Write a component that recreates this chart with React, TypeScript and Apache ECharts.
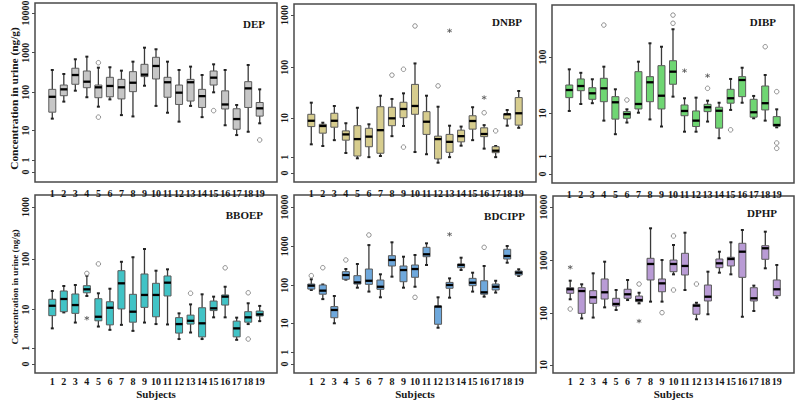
import React, { useEffect, useRef } from 'react';
import * as echarts from 'echarts';

// ---------- data ----------
const SUBJECTS = ['1', '2', '3', '4', '5', '6', '7', '8', '9', '10', '11', '12', '13', '14', '15', '16', '17', '18', '19'];
const PANEL_NAMES = ['DEP', 'DNBP', 'DIBP', 'BBOEP', 'BDCIPP', 'DPHP'];

// [min, Q1, median, Q3, max] per subject (ng/g)
const DEP_BOX = [
  [21, 31, 77, 119, 367], [58, 82, 119, 153, 291], [110, 160, 274, 406, 683], [75, 131, 186, 346, 795],
  [43, 73, 134, 153, 420], [66, 77, 145, 240, 430], [26, 68, 134, 213, 353], [24, 104, 175, 333, 595],
  [147, 250, 280, 510, 1338], [45, 218, 463, 766, 1220], [30, 75, 180, 240, 595], [17.5, 49, 98, 153, 367],
  [45, 60, 180, 213, 446], [23, 41, 80, 119, 274], [100, 153, 235, 346, 510], [14, 37.5, 49, 109, 367],
  [7.5, 10.9, 20.5, 38, 47.5], [9.3, 41, 126, 186, 490], [15.8, 24.5, 39, 55, 119],
];
const DEP_CIRCLES = [[5, 560], [5, 23], [15, 34], [19, 5.4]];
const DEP_STARS: number[][] = [];

const DNBP_BOX = [
  [2.5, 6.6, 8.8, 12.0, 20.6], [2.25, 4.7, 6.8, 7.4, 8.0], [3.2, 6.4, 8.8, 12.6, 17.7], [1.4, 3.2, 4.4, 5.3, 7.8],
  [0.9, 1.1, 3.4, 6.9, 16.3], [1.0, 2.15, 3.9, 6.05, 7.4], [1.1, 1.37, 5.5, 17.1, 28.3], [4.0, 6.9, 9.9, 16.7, 24.4],
  [6.8, 10.2, 15.4, 21, 31.5], [1.5, 12, 17.7, 47, 119], [1.27, 4.4, 8.4, 13.6, 28.3], [0.57, 0.85, 3.4, 4.0, 17.1],
  [1.0, 1.47, 2.9, 4.4, 6.9], [2.3, 2.9, 4.0, 5.5, 6.6], [3.2, 5.8, 8.7, 11.2, 16.7], [1.9, 3.9, 4.5, 6.2, 7.1],
  [1.0, 1.43, 1.65, 2.16, 2.25], [6.9, 9.6, 12, 12.2, 14.7], [6.2, 7.1, 12.6, 26, 35],
];
const DNBP_CIRCLES = [[8, 71], [9, 92], [9, 2.1], [10, 615], [12, 44], [16, 12.9], [17, 5.3]];
const DNBP_STARS = [[13, 500], [16, 26]];

const DIBP_BOX = [
  [11, 19.3, 26.4, 32.4, 61], [14.8, 25.7, 31.1, 41.4, 53], [15.3, 18, 23.1, 29, 40.9], [7.2, 16.3, 28.3, 42.5, 67.8],
  [3.8, 7.7, 15.9, 20.1, 27.2], [6.6, 8.0, 9.6, 10.7, 11.8], [10.2, 12, 14.8, 55.5, 82.8], [7.6, 16.3, 36.2, 45.4, 172],
  [5.5, 12, 20.9, 70.6, 150], [20.1, 33.4, 55.5, 86, 300], [4.3, 8.95, 11, 14.2, 18.8], [4.3, 5.5, 7.2, 11, 19.3],
  [6.9, 10.7, 12.9, 14.6, 17], [3.1, 5.1, 11.1, 12.9, 15.6], [11.5, 15.3, 18.8, 27.2, 41.4], [15.6, 20.1, 39.7, 45.4, 65],
  [8, 8.4, 10.4, 18, 20.7], [7.2, 11.5, 15.3, 31.1, 48.6], [5.3, 5.6, 5.9, 8.6, 11.8],
];
const DIBP_CIRCLES = [[4, 354], [6, 17.5], [10, 525], [10, 380], [13, 28.3], [15, 4.7], [18, 150], [19, 24.7], [19, 2.4], [19, 1.75]];
const DIBP_STARS = [[11, 57.7], [13, 47.2]];

const BBOEP_BOX = [
  [3.8, 7.4, 12, 16.3, 23.9], [8.7, 9.0, 16.5, 23.9, 30], [5.2, 8.3, 12.4, 20.8, 31.4], [19, 22, 25.8, 30.4, 47.8],
  [4.2, 5.7, 7.0, 16.7, 21.5], [3.5, 4.6, 10.9, 14.5, 26.5], [4.6, 10.3, 33.9, 59.8, 89], [3.3, 5.3, 9.0, 20.5, 109],
  [5.2, 11.1, 19.9, 51.6, 157], [4.8, 7.0, 19.9, 33.9, 59.8], [4.7, 19, 34.9, 47.2, 63.6], [2.0, 2.9, 4.8, 6.7, 8.3],
  [3.0, 4.8, 5.7, 7.6, 12.8], [2.0, 2.3, 5.0, 10.9, 20.5], [6.8, 9.5, 10.6, 15, 18.4], [6.8, 12.4, 18.4, 19.9, 29],
  [1.9, 2.3, 3.8, 5.6, 6.7], [4.8, 5.3, 6.8, 9.0, 13.5], [5.6, 7.3, 7.9, 9.3, 11.9],
];
const BBOEP_CIRCLES = [[4, 53], [5, 81], [13, 21.5], [16, 68], [18, 22], [18, 2.0]];
const BBOEP_STARS = [[4, 6.5]];

const BDCIPP_BOX = [
  [76, 80, 98, 108, 143], [44, 59, 73, 102, 105], [9.9, 14.1, 22.8, 28, 53], [140, 143, 184, 224, 262],
  [87, 108, 119, 177, 352], [69, 106, 131, 262, 1070], [49, 79, 92, 137, 192], [167, 313, 446, 574, 1260],
  [87, 124, 247, 313, 541], [92, 161, 262, 332, 597], [332, 541, 623, 939, 1187], [7.4, 9.3, 28, 29, 49],
  [48, 84, 102, 119, 151], [247, 283, 332, 352, 510], [69, 98, 117, 151, 211], [51, 59, 66, 131, 313],
  [65, 76, 92, 108, 131], [380, 472, 564, 835, 1014], [174, 184, 211, 233, 258],
];
const BDCIPP_CIRCLES = [[1, 177], [2, 283], [4, 446], [6, 1935], [10, 49], [16, 939]];
const BDCIPP_STARS = [[13, 2010]];

const DPHP_BOX = [
  [186, 241, 287, 307, 416], [81, 101, 266, 307, 356], [84, 156, 203, 270, 572], [131, 188, 252, 448, 945],
  [117, 139, 152, 194, 278], [180, 194, 231, 287, 429], [156, 168, 180, 214, 247], [168, 429, 856, 1094, 3990],
  [168, 258, 371, 448, 1015], [547, 614, 856, 1015, 1940], [278, 532, 786, 1357, 3300], [78, 97, 141, 150, 160],
  [97, 173, 208, 345, 614], [588, 729, 882, 1061, 1455], [547, 786, 1061, 1143, 2182], [87, 481, 1455, 2090, 3707],
  [112, 173, 194, 307, 336], [710, 1048, 1686, 1883, 3450], [199, 217, 287, 429, 820],
];
const DPHP_CIRCLES = [[1, 122], [7, 360], [9, 104], [10, 2865], [10, 278], [12, 360]];
const DPHP_STARS = [[1, 742], [7, 72]];

// y tick labels per panel (axis is a log scale of value + 1)
const Y_TICKS = [
  [0, 1, 10, 100, 1000, 10000],
  [0, 1, 10, 100, 1000],
  [0, 1, 10, 100],
  [0, 1, 10, 100, 1000],
  [0, 1, 10, 100, 1000, 10000],
  [10, 100, 1000, 10000],
];

const BOXES = [DEP_BOX, DNBP_BOX, DIBP_BOX, BBOEP_BOX, BDCIPP_BOX, DPHP_BOX];
const CIRCLES = [DEP_CIRCLES, DNBP_CIRCLES, DIBP_CIRCLES, BBOEP_CIRCLES, BDCIPP_CIRCLES, DPHP_CIRCLES];
const STARS = [DEP_STARS, DNBP_STARS, DIBP_STARS, BBOEP_STARS, BDCIPP_STARS, DPHP_STARS];

// ---------- layout / style ----------
const COLORS = ['#c6c6c6', '#d7cd8e', '#6fd673', '#41c3c6', '#6ea8dc', '#b99bd5'];
const LAYOUT = [
  { left: 35, top: 3, width: 242, height: 179, yMin: 0.562, yMax: 17783, lm: 6, tr: 535, tt: 18, yName: 11.4, yShift: 12, xName: false },
  { left: 294, top: 4, width: 242, height: 178, yMin: 0.675, yMax: 1610, lm: 6, tr: 278, tt: 16, yName: 0, yShift: 0, xName: false },
  { left: 552, top: 5, width: 242, height: 178, yMin: 0.701, yMax: 783, lm: 6, tr: 24, tt: 16, yName: 0, yShift: 0, xName: false },
  { left: 35, top: 195, width: 242, height: 178, yMin: 0.673, yMax: 1703, lm: 3, tr: 537, tt: 209, yName: 9.2, yShift: 6, xName: true },
  { left: 294, top: 195, width: 242, height: 178, yMin: 0.59, yMax: 20230, lm: 3, tr: 275, tt: 210, yName: 0, yShift: 0, xName: true },
  { left: 553, top: 196, width: 241, height: 177, yMin: 7.79, yMax: 16070, lm: 3, tr: 23, tt: 207, yName: 0, yShift: 0, xName: true },
];
const FONT = "'Liberation Serif', 'Times New Roman', serif";
const INK = '#161616';
const STAR_PATH = 'path://M5,0L5,10M0.7,2.5L9.3,7.5M0.7,7.5L9.3,2.5';

export default function App() {
  const ref = useRef<HTMLDivElement>(null);
  useEffect(() => {
    document.body.style.margin = '0';
    const chart = echarts.init(ref.current!, undefined, { renderer: 'svg' });
    const cats = [''].concat(SUBJECTS).concat([' ']);
    const grid: any[] = [], xAxis: any[] = [], yAxis: any[] = [], series: any[] = [], title: any[] = [];
    LAYOUT.forEach((L, i) => {
      grid.push({
        left: L.left, top: L.top, width: L.width, height: L.height,
        show: true, borderColor: '#4a4a4a', borderWidth: 1.5, backgroundColor: '#fff',
        containLabel: false, outerBoundsMode: 'none',
      });
      xAxis.push({
        type: 'category', gridIndex: i, data: cats, boundaryGap: true,
        axisLine: { show: false }, axisTick: { show: false }, splitLine: { show: false },
        axisLabel: { interval: 0, margin: L.lm, fontFamily: FONT, fontWeight: 'bold', fontSize: 10, color: INK },
        name: L.xName ? 'Subjects' : '', nameLocation: 'middle', nameGap: 15,
        nameTextStyle: { fontFamily: FONT, fontWeight: 'bold', fontSize: 11, color: INK, verticalAlign: 'top' },
      });
      const tickVals = Y_TICKS[i].map((t) => t + 1);
      yAxis.push({
        type: 'log', logBase: 10, gridIndex: i, min: L.yMin, max: L.yMax,
        axisLine: { show: false }, splitLine: { show: false },
        axisTick: { show: true, inside: false, length: 3, customValues: tickVals, lineStyle: { color: '#4a4a4a', width: 1 } },
        axisLabel: {
          customValues: tickVals, rotate: 90, margin: 5, fontFamily: FONT, fontWeight: 'bold', fontSize: 10, color: INK,
          formatter: (v: number) => String(Math.round(v - 1)),
        },
        name: L.yName ? 'Concentration in urine (ng/g)' : '', nameLocation: 'middle', nameGap: 15,
        nameTextStyle: { fontFamily: FONT, fontWeight: 'bold', fontSize: L.yName || 10, color: INK, padding: [0, L.yShift, 0, 0] },
      });
      title.push({
        text: PANEL_NAMES[i], right: L.tr, top: L.tt, padding: 0,
        textStyle: { fontFamily: FONT, fontWeight: 'bold', fontSize: 11, color: INK },
      });
      const color = COLORS[i];
      series.push({
        type: 'custom', xAxisIndex: i, yAxisIndex: i,
        data: BOXES[i].map((b, k) => [k + 1, b[0] + 1, b[1] + 1, b[2] + 1, b[3] + 1, b[4] + 1]),
        encode: { x: 0, y: [1, 2, 3, 4, 5] },
        renderItem: (_p: any, api: any) => {
          const x = api.value(0);
          const lo = api.coord([x, api.value(1)]);
          const q1 = api.coord([x, api.value(2)]);
          const md = api.coord([x, api.value(3)]);
          const q3 = api.coord([x, api.value(4)]);
          const hi = api.coord([x, api.value(5)]);
          const cx = lo[0];
          const w = 7;
          const wl = { stroke: '#3a3a3a', lineWidth: 1.3 };
          const cap = { stroke: '#222', lineWidth: 2 };
          return {
            type: 'group',
            children: [
              { type: 'line', shape: { x1: cx, y1: hi[1], x2: cx, y2: q3[1] }, style: wl },
              { type: 'line', shape: { x1: cx, y1: q1[1], x2: cx, y2: lo[1] }, style: wl },
              { type: 'line', shape: { x1: cx - 1.5, y1: hi[1], x2: cx + 1.5, y2: hi[1] }, style: cap },
              { type: 'line', shape: { x1: cx - 1.5, y1: lo[1], x2: cx + 1.5, y2: lo[1] }, style: cap },
              { type: 'rect', shape: { x: cx - w / 2, y: q3[1], width: w, height: Math.max(q1[1] - q3[1], 1) }, style: { fill: color, stroke: '#5a5a5a', lineWidth: 1 } },
              { type: 'line', shape: { x1: cx - w / 2, y1: md[1], x2: cx + w / 2, y2: md[1] }, style: { stroke: '#000', lineWidth: 2.3 } },
            ],
          };
        },
      });
      series.push({
        type: 'scatter', xAxisIndex: i, yAxisIndex: i, symbol: 'circle', symbolSize: 4.5,
        itemStyle: { color: '#fff', borderColor: '#777', borderWidth: 1 },
        data: CIRCLES[i].map((c) => [c[0], c[1] + 1]),
      });
      series.push({
        type: 'scatter', xAxisIndex: i, yAxisIndex: i, symbol: STAR_PATH, symbolSize: 4.5,
        itemStyle: { color: 'none', borderColor: '#555', borderWidth: 1 },
        data: STARS[i].map((c) => [c[0], c[1] + 1]),
      });
    });
    chart.setOption({ animation: false, backgroundColor: '#fff', grid, xAxis, yAxis, series, title });
    return () => chart.dispose();
  }, []);
  return <div ref={ref} style={{ width: 800, height: 407 }} />;
}
